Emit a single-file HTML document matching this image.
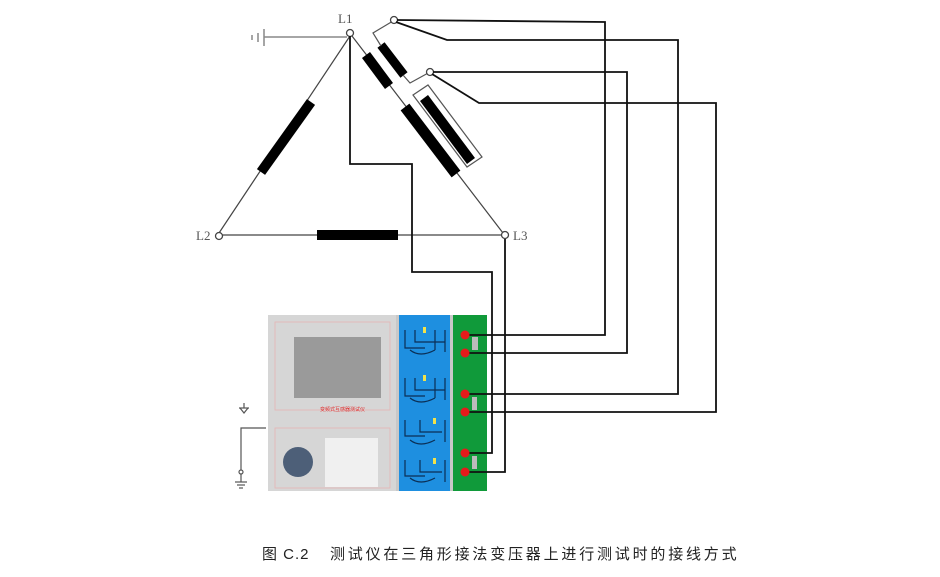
<!DOCTYPE html>
<html><head><meta charset="utf-8"><style>
body{margin:0;background:#fff;width:940px;height:577px;overflow:hidden}
svg{display:block}
</style></head><body>
<svg width="940" height="577" viewBox="0 0 940 577" xmlns="http://www.w3.org/2000/svg">
<line x1="264" y1="37" x2="347" y2="37" stroke="#888" stroke-width="1.5"/>
<line x1="264" y1="29" x2="264" y2="46" stroke="#888" stroke-width="1.5"/>
<line x1="258" y1="33" x2="258" y2="42" stroke="#888" stroke-width="1.5"/>
<line x1="252" y1="35" x2="252" y2="40" stroke="#888" stroke-width="1.5"/>
<text x="338" y="23" font-family="Liberation Serif,serif" font-size="13" fill="#555">L1</text>
<text x="196" y="240" font-family="Liberation Serif,serif" font-size="13" fill="#555">L2</text>
<text x="513" y="240" font-family="Liberation Serif,serif" font-size="13" fill="#555">L3</text>
<g stroke="#444" stroke-width="1.2" fill="none">
<line x1="350" y1="36" x2="219" y2="233"/>
<line x1="221" y1="235" x2="502" y2="235"/>
<line x1="352" y1="36" x2="503" y2="233"/>
</g>
<g stroke="#000" stroke-linecap="butt">
<line x1="311" y1="102" x2="261" y2="172" stroke-width="10"/>
<line x1="317" y1="235" x2="398" y2="235" stroke-width="10"/>
<line x1="366" y1="55" x2="389" y2="86" stroke-width="10"/>
<line x1="381" y1="45" x2="404" y2="75" stroke-width="9"/>
<line x1="405" y1="107" x2="456" y2="174" stroke-width="11"/>
<line x1="424" y1="98" x2="471" y2="161" stroke-width="10"/>
</g>
<g stroke="#555" stroke-width="1.2" fill="none">
<polyline points="381,46 373,33 393,21"/>
<polyline points="403,75 410,83 430,72"/>
<polygon points="413,95 428,85 482,157 467,167"/>
</g>
<g fill="#fff" stroke="#444" stroke-width="1.3">
<circle cx="350" cy="33" r="3.5"/>
<circle cx="219" cy="236" r="3.5"/>
<circle cx="505" cy="235" r="3.5"/>
<circle cx="394" cy="20" r="3.5"/>
<circle cx="430" cy="72" r="3.5"/>
</g>
<rect x="268" y="315" width="128" height="176" fill="#d6d6d6"/>
<rect x="275" y="322" width="115" height="88" fill="none" stroke="#e6b5b5" stroke-width="0.8"/>
<rect x="275" y="428" width="115" height="60" fill="none" stroke="#e6b5b5" stroke-width="0.8"/>
<rect x="294" y="337" width="87" height="61" fill="#9a9a9a"/>
<text x="320" y="411" font-family="Noto Sans CJK SC,sans-serif" font-size="5" fill="#e03030">变频式互感器测试仪</text>
<circle cx="298" cy="462" r="15" fill="#4d5f78"/>
<rect x="325" y="438" width="53" height="49" fill="#f0f0f0"/>
<rect x="396" y="315" width="57" height="176" fill="#c8c8c8"/>
<rect x="399" y="315" width="51" height="176" fill="#1e8fe0"/>
<g stroke="#0b2f55" stroke-width="1.2" fill="none">
<path d="M405 330 v18 h20 M415 330 v12 h30 M435 330 v20 M445 330 v22 M410 350 q10 8 25 0"/>
<path d="M405 378 v18 h20 M415 378 v12 h30 M435 378 v20 M445 378 v22 M410 398 q10 8 25 0"/>
<path d="M405 420 v16 h20 M420 420 v12 h22 M445 420 v22 M410 440 q10 8 25 0"/>
<path d="M405 460 v16 h20 M420 460 v12 h22 M445 460 v22 M410 478 q10 8 25 0"/>
</g>
<g fill="#f2e24a"><rect x="423" y="327" width="3" height="6"/><rect x="423" y="375" width="3" height="6"/><rect x="433" y="418" width="3" height="6"/><rect x="433" y="458" width="3" height="6"/></g>
<rect x="453" y="315" width="34" height="176" fill="#109a3a"/>
<rect x="472" y="337" width="6" height="13" fill="#bbb"/>
<rect x="472" y="397" width="5" height="13" fill="#bbb"/>
<rect x="472" y="456" width="5" height="13" fill="#bbb"/>
<g stroke="#111" stroke-width="1.8" fill="none">
<polyline points="397,20 605,22 605,335 465,335"/>
<polyline points="396,22 447,40 678,40 678,394 465,394"/>
<polyline points="433,72 627,72 627,353 465,353"/>
<polyline points="432,74 479,103 716,103 716,412 465,412"/>
<polyline points="350,36 350,164 412,164 412,272 492,272 492,453 465,453"/>
<polyline points="505,239 505,472 465,472"/>
</g>
<g fill="#e51b1b"><circle cx="465" cy="335" r="4.5"/><circle cx="465" cy="353" r="4.5"/><circle cx="465" cy="394" r="4.5"/><circle cx="465" cy="412" r="4.5"/><circle cx="465" cy="453" r="4.5"/><circle cx="465" cy="472" r="4.5"/></g>
<g stroke="#555" stroke-width="1.2" fill="none">
<polyline points="266,428 241,428 241,470"/>
<circle cx="241" cy="472" r="2" fill="#fff"/>
<line x1="241" y1="474" x2="241" y2="482"/>
<line x1="235" y1="482" x2="247" y2="482"/><line x1="237" y1="485" x2="245" y2="485"/><line x1="239" y1="488" x2="243" y2="488"/>
<line x1="244" y1="403" x2="244" y2="408"/>
<line x1="239" y1="408" x2="249" y2="408"/><polyline points="240,408 244,413 248,408"/>
</g>
<text x="262" y="559" font-family="Liberation Sans,Noto Sans CJK SC,sans-serif" font-size="15" fill="#222" letter-spacing="1">图 C.2</text>
<text x="330" y="559" font-family="Liberation Sans,Noto Sans CJK SC,sans-serif" font-size="15" fill="#222" letter-spacing="2.8">测试仪在三角形接法变压器上进行测试时的接线方式</text>
</svg>
</body></html>
